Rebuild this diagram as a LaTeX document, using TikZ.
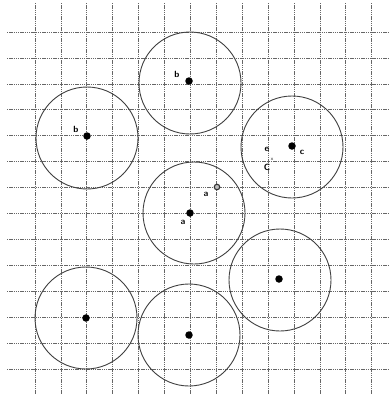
\documentclass[tikz,border=0pt]{standalone}
\begin{document}
\begin{tikzpicture}[x=1pt,y=-1pt,
  gridline/.style={black!60,line width=0.75pt,dash pattern=on 1.4pt off 0.8pt},
  ring/.style={draw=black!75,line width=0.9pt,circle,minimum size=102pt,inner sep=0pt},
  dotpt/.style={fill=black,circle,inner sep=0pt,minimum size=7.5pt},
  opendot/.style={draw=black!80,fill=black!25,line width=1.1pt,circle,inner sep=0pt,minimum size=5.5pt},
  lbl/.style={font=\sffamily\bfseries\small,inner sep=0pt}]
\useasboundingbox (0,0) rectangle (389,394);
\foreach \i in {0,...,13}{
  \draw[gridline] (35+25.9*\i,3) -- (35+25.9*\i,394);
  \draw[gridline] (7,32+25.95*\i) -- (389,32+25.95*\i);
}
% circles
\node[ring] (c1) at (190,83) {};
\node[ring] (c2) at (87,138) {};
\node[ring] (c3) at (292,147) {};
\node[ring] (c4) at (194,213) {};
\node[ring] (c5) at (280,280) {};
\node[ring] (c6) at (86,318) {};
\node[ring] (c7) at (189,335) {};
% points
\node[dotpt] (p1) at (189,81) {};
\node[lbl] (l1) at (177,74) {b};
\node[dotpt] (p2) at (87,136) {};
\node[lbl] (l2) at (76,129) {b};
\node[dotpt] (p3) at (292,146) {};
\node[lbl] (l3) at (302,152) {c};
\node[lbl] (l3a) at (267,149) {e};
\node[lbl] (l3b) at (267,167) {C};
\node[font=\sffamily\tiny,inner sep=0pt] (l3c) at (272,159) {x};
\node[dotpt] (p4) at (190,213) {};
\node[lbl] (l4) at (183,222) {a};
\node[opendot] (p4b) at (217,187) {};
\node[lbl] (l4b) at (206,194) {a};
\node[dotpt] (p5) at (279,279) {};
\node[dotpt] (p6) at (86,318) {};
\node[dotpt] (p7) at (189,335) {};
\end{tikzpicture}
\end{document}
